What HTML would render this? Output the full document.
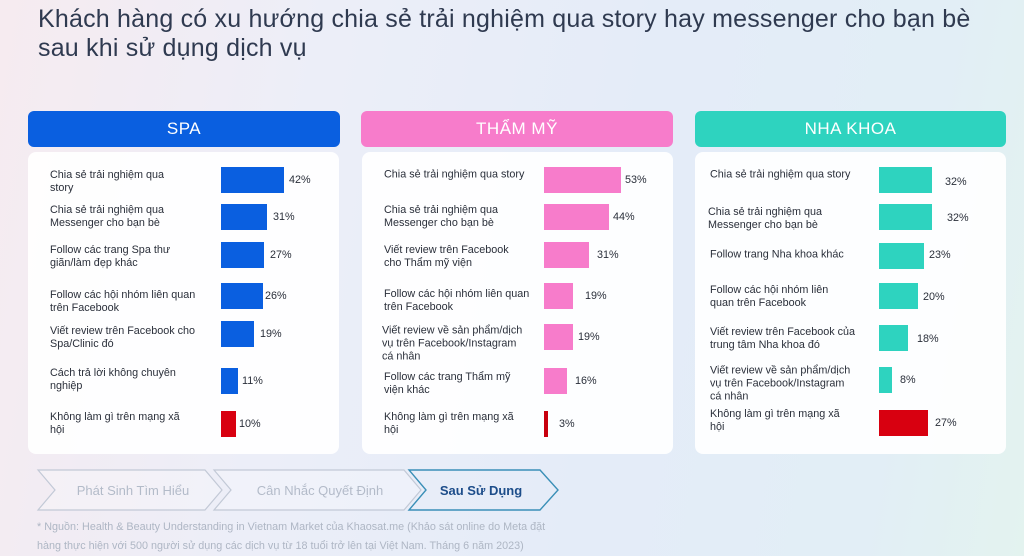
<!DOCTYPE html>
<html><head><meta charset="utf-8"><style>
*{margin:0;padding:0;box-sizing:border-box}
body{width:1024px;height:556px;overflow:hidden;position:relative;font-family:"Liberation Sans","Noto Sans CJK SC",sans-serif;
background:linear-gradient(100deg,#f6ebf0 0%,#eceef8 30%,#e4ecf8 60%,#e2eef6 85%,#e3f3ef 100%)}
.a{position:absolute}
h1{position:absolute;left:38px;top:5px;font-size:25px;font-weight:normal;color:#2f3a50;line-height:29px;width:990px;letter-spacing:.2px;white-space:nowrap}
.hd{position:absolute;top:111px;height:36px;border-radius:6px;color:#fff;font-size:17px;text-align:center;line-height:36px;letter-spacing:.5px}
.pn{position:absolute;top:152px;height:302px;width:311px;background:rgba(255,255,255,.92);border-radius:8px}
.l{position:absolute;font-size:10.8px;line-height:13px;color:#2a2f3a;transform:translateY(-50%)}
.b{position:absolute;height:26px;transform:translateY(-50%)}
.v{position:absolute;font-size:10.8px;color:#2a2f3a;transform:translateY(-50%)}
.ft{position:absolute;left:37px;font-size:10.8px;color:#aeb6c4;white-space:nowrap}
</style></head><body>
<h1>Khách hàng có xu hướng chia sẻ trải nghiệm qua story hay messenger cho bạn bè<br>sau khi sử dụng dịch vụ</h1>

<div class="hd" style="left:28px;width:312px;background:#0a5fe0">SPA</div>
<div class="hd" style="left:361px;width:312px;background:#f77ccb">THẨM MỸ</div>
<div class="hd" style="left:695px;width:311px;background:#2ed3bf">NHA KHOA</div>
<div class="pn" style="left:28px"></div>
<div class="pn" style="left:362px"></div>
<div class="pn" style="left:695px"></div>

<!-- SPA -->
<div class="l" style="left:50px;top:182px">Chia sẻ trải nghiệm qua<br>story</div>
<div class="b" style="left:221px;top:180px;width:63px;background:#0a5fe0"></div><div class="v" style="left:289px;top:180px">42%</div>
<div class="l" style="left:50px;top:217px">Chia sẻ trải nghiệm qua<br>Messenger cho bạn bè</div>
<div class="b" style="left:221px;top:217px;width:46px;background:#0a5fe0"></div><div class="v" style="left:273px;top:217px">31%</div>
<div class="l" style="left:50px;top:257px">Follow các trang Spa thư<br>giãn/làm đẹp khác</div>
<div class="b" style="left:221px;top:255px;width:43px;background:#0a5fe0"></div><div class="v" style="left:270px;top:255px">27%</div>
<div class="l" style="left:50px;top:302px">Follow các hội nhóm liên quan<br>trên Facebook</div>
<div class="b" style="left:221px;top:296px;width:42px;background:#0a5fe0"></div><div class="v" style="left:265px;top:296px">26%</div>
<div class="l" style="left:50px;top:338px">Viết review trên Facebook cho<br>Spa/Clinic đó</div>
<div class="b" style="left:221px;top:334px;width:33px;background:#0a5fe0"></div><div class="v" style="left:260px;top:334px">19%</div>
<div class="l" style="left:50px;top:380px">Cách trả lời không chuyên<br>nghiệp</div>
<div class="b" style="left:221px;top:381px;width:17px;background:#0a5fe0"></div><div class="v" style="left:242px;top:381px">11%</div>
<div class="l" style="left:50px;top:424px">Không làm gì trên mạng xã<br>hội</div>
<div class="b" style="left:221px;top:424px;width:15px;background:#d80010"></div><div class="v" style="left:239px;top:424px">10%</div>

<!-- THAM MY -->
<div class="l" style="left:384px;top:175px">Chia sẻ trải nghiệm qua story</div>
<div class="b" style="left:544px;top:180px;width:77px;background:#f77ccb"></div><div class="v" style="left:625px;top:180px">53%</div>
<div class="l" style="left:384px;top:217px">Chia sẻ trải nghiệm qua<br>Messenger cho bạn bè</div>
<div class="b" style="left:544px;top:217px;width:65px;background:#f77ccb"></div><div class="v" style="left:613px;top:217px">44%</div>
<div class="l" style="left:384px;top:257px">Viết review trên Facebook<br>cho Thẩm mỹ viện</div>
<div class="b" style="left:544px;top:255px;width:45px;background:#f77ccb"></div><div class="v" style="left:597px;top:255px">31%</div>
<div class="l" style="left:384px;top:301px">Follow các hội nhóm liên quan<br>trên Facebook</div>
<div class="b" style="left:544px;top:296px;width:29px;background:#f77ccb"></div><div class="v" style="left:585px;top:296px">19%</div>
<div class="l" style="left:382px;top:344px">Viết review về sản phẩm/dịch<br>vụ trên Facebook/Instagram<br>cá nhân</div>
<div class="b" style="left:544px;top:337px;width:29px;background:#f77ccb"></div><div class="v" style="left:578px;top:337px">19%</div>
<div class="l" style="left:384px;top:384px">Follow các trang Thẩm mỹ<br>viện khác</div>
<div class="b" style="left:544px;top:381px;width:23px;background:#f77ccb"></div><div class="v" style="left:575px;top:381px">16%</div>
<div class="l" style="left:384px;top:424px">Không làm gì trên mạng xã<br>hội</div>
<div class="b" style="left:544px;top:424px;width:4px;background:#c8000e"></div><div class="v" style="left:559px;top:424px">3%</div>

<!-- NHA KHOA -->
<div class="l" style="left:710px;top:175px">Chia sẻ trải nghiệm qua story</div>
<div class="b" style="left:879px;top:180px;width:53px;background:#2ed3bf"></div><div class="v" style="left:945px;top:182px">32%</div>
<div class="l" style="left:708px;top:219px">Chia sẻ trải nghiệm qua<br>Messenger cho bạn bè</div>
<div class="b" style="left:879px;top:217px;width:53px;background:#2ed3bf"></div><div class="v" style="left:947px;top:218px">32%</div>
<div class="l" style="left:710px;top:255px">Follow trang Nha khoa khác</div>
<div class="b" style="left:879px;top:256px;width:45px;background:#2ed3bf"></div><div class="v" style="left:929px;top:255px">23%</div>
<div class="l" style="left:710px;top:297px">Follow các hội nhóm liên<br>quan trên Facebook</div>
<div class="b" style="left:879px;top:296px;width:39px;background:#2ed3bf"></div><div class="v" style="left:923px;top:297px">20%</div>
<div class="l" style="left:710px;top:339px">Viết review trên Facebook của<br>trung tâm Nha khoa đó</div>
<div class="b" style="left:879px;top:338px;width:29px;background:#2ed3bf"></div><div class="v" style="left:917px;top:339px">18%</div>
<div class="l" style="left:710px;top:384px">Viết review về sản phẩm/dịch<br>vụ trên Facebook/Instagram<br>cá nhân</div>
<div class="b" style="left:879px;top:380px;width:13px;background:#2ed3bf"></div><div class="v" style="left:900px;top:380px">8%</div>
<div class="l" style="left:710px;top:421px">Không làm gì trên mạng xã<br>hội</div>
<div class="b" style="left:879px;top:423px;width:49px;background:#d80010"></div><div class="v" style="left:935px;top:423px">27%</div>

<!-- chevrons -->
<svg class="a" style="left:0;top:460px" width="600" height="60">
<polygon points="38,10 205,10 222,30 205,50 38,50 55,30" fill="rgba(255,255,255,.25)" stroke="#c2c9d6" stroke-width="1.2"/>
<polygon points="214,10 404,10 421,30 404,50 214,50 231,30" fill="rgba(255,255,255,.25)" stroke="#c2c9d6" stroke-width="1.2"/>
<polygon points="409,10 540,10 558,30 540,50 409,50 426,30" fill="none" stroke="#3a8fb7" stroke-width="1.4"/>
<text x="133" y="35" font-size="13" fill="#b3bbc9" text-anchor="middle" font-family="Liberation Sans, Noto Sans CJK SC, sans-serif">Phát Sinh Tìm Hiểu</text>
<text x="320" y="35" font-size="13" fill="#b3bbc9" text-anchor="middle" font-family="Liberation Sans, Noto Sans CJK SC, sans-serif">Cân Nhắc Quyết Định</text>
<text x="481" y="35" font-size="13" fill="#1d4d8a" font-weight="bold" text-anchor="middle" font-family="Liberation Sans, Noto Sans CJK SC, sans-serif">Sau Sử Dụng</text>
</svg>
<div class="ft" style="top:521px">* Nguồn: Health &amp; Beauty Understanding in Vietnam Market của Khaosat.me (Khảo sát online do Meta đặt</div>
<div class="ft" style="top:540px">hàng thực hiện với 500 người sử dụng các dịch vụ từ 18 tuổi trở lên tại Việt Nam. Tháng 6 năm 2023)</div>
</body></html>
